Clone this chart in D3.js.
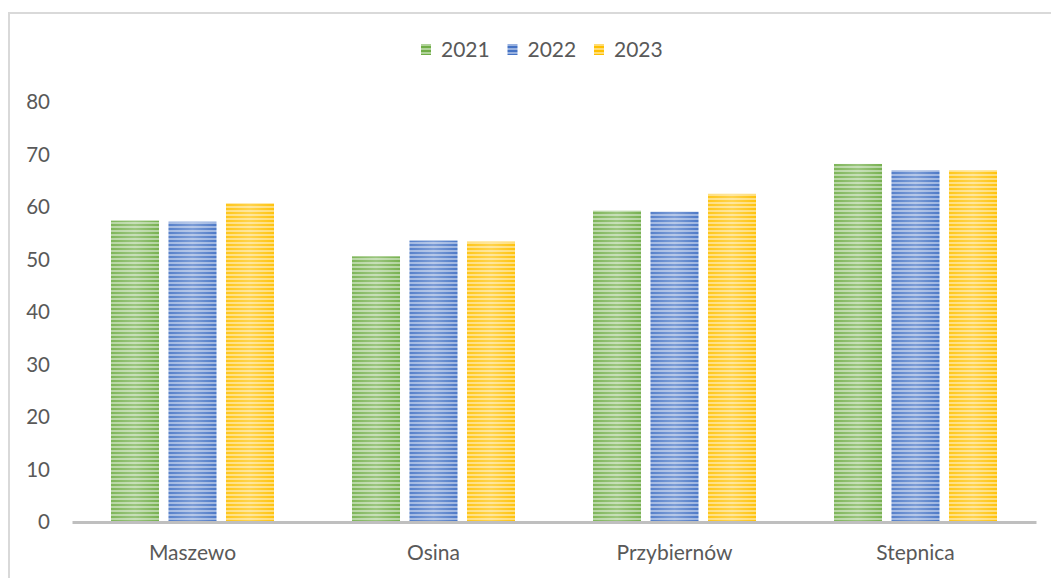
<!DOCTYPE html>
<html>
<head>
<meta charset="utf-8">
<script src="https://cdn.jsdelivr.net/npm/d3@7/dist/d3.min.js"></script>
<style>
  body { margin: 0; background: #fff; }
  text { font-family: Lato, 'Open Sans', sans-serif; fill: #595959; }
</style>
</head>
<body>
<svg id="chart" width="1051" height="578"></svg>
<script>
const categories = ['Maszewo', 'Osina', 'Przybiernów', 'Stepnica'];
const years = ['2021', '2022', '2023'];
const values2021 = [57.4, 50.6, 59.3, 68.2];
const values2022 = [57.2, 53.6, 59.1, 67.0];
const values2023 = [60.7, 53.4, 62.5, 67.0];
const yTicks = [0, 10, 20, 30, 40, 50, 60, 70, 80];
const colors = ['#70ad47', '#4472c4', '#ffc000'];

const series = [values2021, values2022, values2023];

const svg = d3.select('#chart');
const defs = svg.append('defs');

// striped fills like the excel "narrow horizontal" pattern
colors.forEach(function(c, i) {
  const p = defs.append('pattern')
    .attr('id', 'stripe' + i)
    .attr('patternUnits', 'userSpaceOnUse')
    .attr('width', 8)
    .attr('height', 4);
  p.append('rect').attr('width', 8).attr('height', 4)
    .attr('fill', d3.interpolateRgb(c, '#ffffff')(0.45));
  p.append('rect').attr('width', 8).attr('height', 2).attr('fill', c);
});
const shine = defs.append('linearGradient').attr('id', 'shine')
  .attr('x1', 0).attr('x2', 1).attr('y1', 0).attr('y2', 0);
shine.append('stop').attr('offset', 0).attr('stop-color', '#fff').attr('stop-opacity', 0.1);
shine.append('stop').attr('offset', 0.5).attr('stop-color', '#fff').attr('stop-opacity', 0.3);
shine.append('stop').attr('offset', 1).attr('stop-color', '#fff').attr('stop-opacity', 0.05);

// chart frame
svg.append('rect')
  .attr('x', 9).attr('y', 13)
  .attr('width', 1100).attr('height', 600)
  .attr('fill', 'none')
  .attr('stroke', '#d9d9d9')
  .attr('stroke-width', 2);

const x = d3.scaleBand().domain(categories).range([72, 1036]);
const xInner = d3.scaleBand().domain(years).range([39, 202]).paddingInner(0.165);
const y = d3.scaleLinear().domain([0, 80]).range([522, 102]);

const groups = svg.selectAll('g.cat')
  .data(categories)
  .enter()
  .append('g')
  .attr('class', 'cat')
  .attr('transform', function(d) { return 'translate(' + x(d) + ',0)'; });

years.forEach(function(yr, i) {
  groups.append('rect')
    .attr('x', xInner(yr))
    .attr('y', function(d, j) { return y(series[i][j]); })
    .attr('width', xInner.bandwidth())
    .attr('height', function(d, j) { return y(0) - y(series[i][j]); })
    .attr('fill', 'url(#stripe' + i + ')');
  groups.append('rect')
    .attr('x', xInner(yr))
    .attr('y', function(d, j) { return y(series[i][j]); })
    .attr('width', xInner.bandwidth())
    .attr('height', function(d, j) { return y(0) - y(series[i][j]); })
    .attr('fill', 'url(#shine)');
});

// y axis labels
const yAxis = svg.append('g')
  .attr('transform', 'translate(50,0)')
  .call(d3.axisLeft(y).tickValues(yTicks).tickSize(0).tickPadding(0));
yAxis.select('.domain').remove();
yAxis.selectAll('text')
  .attr('font-size', 20.5)
  .attr('font-family', 'Lato, sans-serif')
  .attr('fill', '#595959');

// x axis
const xAxis = svg.append('g')
  .attr('transform', 'translate(0,' + y(0) + ')')
  .call(d3.axisBottom(x).tickSize(0).tickPadding(23));
xAxis.select('.domain')
  .attr('stroke', '#bfbfbf')
  .attr('stroke-width', 3);
xAxis.selectAll('text')
  .attr('font-size', 21)
  .attr('font-family', 'Lato, sans-serif')
  .attr('fill', '#595959');

// legend
const legend = svg.append('g').attr('transform', 'translate(421,50)');
const legendStep = [0, 86.5, 173];
years.forEach(function(yr, i) {
  const item = legend.append('g').attr('transform', 'translate(' + legendStep[i] + ',0)');
  item.append('rect')
    .attr('x', 0).attr('y', -6)
    .attr('width', 10).attr('height', 11)
    .attr('fill', 'url(#stripe' + i + ')');
  item.append('text')
    .attr('x', 20).attr('y', 7)
    .attr('font-size', 21)
    .text(yr);
});
</script>
</body>
</html>
